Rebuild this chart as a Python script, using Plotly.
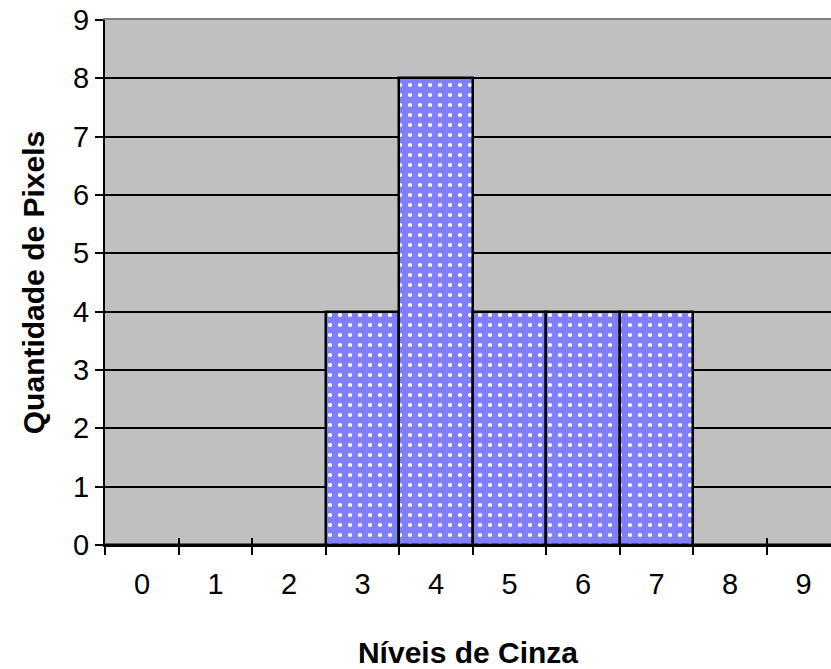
import plotly.graph_objects as go

# Histograma de níveis de cinza
niveis = [0, 1, 2, 3, 4, 5, 6, 7, 8, 9]
quantidade = [0, 0, 0, 4, 8, 4, 4, 4, 0, 0]
rotulos_x = [str(n) for n in niveis]
ticks_y = [0, 1, 2, 3, 4, 5, 6, 7, 8, 9]

limites = [n - 0.5 for n in niveis] + [niveis[-1] + 0.5]
faixa_x = [-0.503, 9.374]

fonte = "Liberation Sans, Arial, sans-serif"

fig = go.Figure()
fig.add_trace(go.Bar(
    x=niveis,
    y=quantidade,
    width=1.0,
    marker=dict(
        color="#8080FF",
        line=dict(color="black", width=2.5),
        pattern=dict(shape=".", fgcolor="white", bgcolor="#8080FF",
                     size=10, solidity=0.14, fillmode="replace"),
    ),
    showlegend=False,
    hoverinfo="x+y",
))
# traço invisível para ancorar os eixos auxiliares
fig.add_trace(go.Scatter(x=[niveis[0]], y=[0], xaxis="x2", mode="markers",
                         marker=dict(opacity=0), showlegend=False, hoverinfo="skip"))
fig.add_trace(go.Scatter(x=[niveis[0]], y=[0], xaxis="x3", mode="markers",
                         marker=dict(opacity=0), showlegend=False, hoverinfo="skip"))

fig.update_layout(
    width=831, height=669,
    margin=dict(l=105, r=0, t=20, b=124),
    paper_bgcolor="white",
    plot_bgcolor="#C0C0C0",
    font=dict(family=fonte, size=29, color="black"),
    bargap=0,
    xaxis=dict(
        range=faixa_x,
        tickmode="array", tickvals=niveis, ticktext=rotulos_x,
        tickfont=dict(size=29),
        ticks="", showgrid=False, zeroline=False,
        showline=True, linecolor="black", linewidth=2,
        ticklabelstandoff=12,
        minor=dict(tickmode="array", tickvals=limites, ticks="outside",
                   ticklen=8, tickwidth=2, tickcolor="black", showgrid=False),
        title=dict(text="<b>Níveis de Cinza</b>", font=dict(size=30), standoff=45),
    ),
    xaxis2=dict(
        range=faixa_x, overlaying="x", anchor="y", side="bottom",
        tickmode="array", tickvals=limites, ticks="inside",
        ticklen=7, tickwidth=2, tickcolor="black",
        showticklabels=False, showgrid=False, zeroline=False, showline=False,
    ),
    xaxis3=dict(
        range=faixa_x, overlaying="x", anchor="y", side="top",
        showticklabels=False, ticks="", showgrid=False, zeroline=False,
        showline=True, linecolor="#808080", linewidth=2,
    ),
    yaxis=dict(
        range=[0, 9],
        tickmode="array", tickvals=ticks_y,
        tickfont=dict(size=29),
        ticks="outside", ticklen=8, tickwidth=2, tickcolor="black",
        showgrid=True, gridcolor="black", gridwidth=2,
        zeroline=False,
        showline=True, linecolor="black", linewidth=2,
        title=dict(text="<b>Quantidade de Pixels</b>", font=dict(size=30), standoff=20),
    ),
)

fig.write_html("out.html")
